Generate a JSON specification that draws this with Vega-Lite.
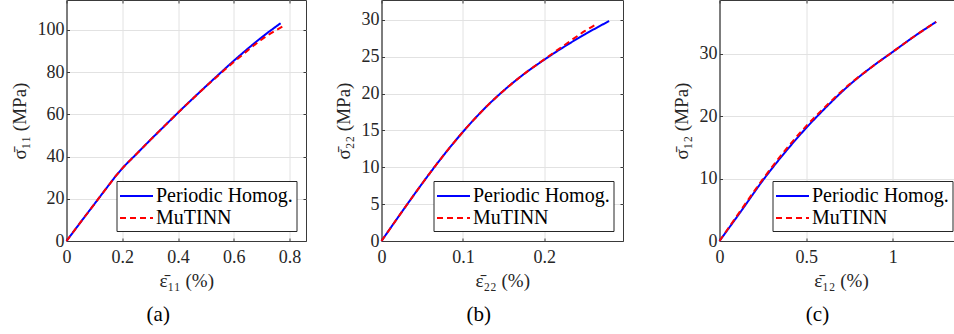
{
  "$schema": "https://vega.github.io/schema/vega-lite/v6.json",
  "padding": {"left": 9.5, "top": -1, "right": 0, "bottom": 0},
  "background": "white",
  "datasets": {
    "curves": [
      {"p": "a", "s": "Periodic Homog.", "x": 0, "y": 0},
      {"p": "a", "s": "Periodic Homog.", "x": 0.05, "y": 8.8},
      {"p": "a", "s": "Periodic Homog.", "x": 0.1, "y": 17.5},
      {"p": "a", "s": "Periodic Homog.", "x": 0.15, "y": 26.2},
      {"p": "a", "s": "Periodic Homog.", "x": 0.18, "y": 31.3},
      {"p": "a", "s": "Periodic Homog.", "x": 0.2, "y": 34.4},
      {"p": "a", "s": "Periodic Homog.", "x": 0.25, "y": 41.1},
      {"p": "a", "s": "Periodic Homog.", "x": 0.3, "y": 47.8},
      {"p": "a", "s": "Periodic Homog.", "x": 0.35, "y": 54.3},
      {"p": "a", "s": "Periodic Homog.", "x": 0.4, "y": 60.8},
      {"p": "a", "s": "Periodic Homog.", "x": 0.45, "y": 67.1},
      {"p": "a", "s": "Periodic Homog.", "x": 0.5, "y": 73.3},
      {"p": "a", "s": "Periodic Homog.", "x": 0.55, "y": 79.4},
      {"p": "a", "s": "Periodic Homog.", "x": 0.6, "y": 85.4},
      {"p": "a", "s": "Periodic Homog.", "x": 0.65, "y": 91.1},
      {"p": "a", "s": "Periodic Homog.", "x": 0.7, "y": 96.5},
      {"p": "a", "s": "Periodic Homog.", "x": 0.768, "y": 103.2},
      {"p": "a", "s": "MuTINN", "x": 0, "y": 0},
      {"p": "a", "s": "MuTINN", "x": 0.05, "y": 8.8},
      {"p": "a", "s": "MuTINN", "x": 0.1, "y": 17.5},
      {"p": "a", "s": "MuTINN", "x": 0.15, "y": 26.2},
      {"p": "a", "s": "MuTINN", "x": 0.18, "y": 31.3},
      {"p": "a", "s": "MuTINN", "x": 0.2, "y": 34.4},
      {"p": "a", "s": "MuTINN", "x": 0.25, "y": 41.1},
      {"p": "a", "s": "MuTINN", "x": 0.3, "y": 47.8},
      {"p": "a", "s": "MuTINN", "x": 0.35, "y": 54.3},
      {"p": "a", "s": "MuTINN", "x": 0.4, "y": 60.8},
      {"p": "a", "s": "MuTINN", "x": 0.45, "y": 67.1},
      {"p": "a", "s": "MuTINN", "x": 0.5, "y": 73.2},
      {"p": "a", "s": "MuTINN", "x": 0.55, "y": 79.1},
      {"p": "a", "s": "MuTINN", "x": 0.6, "y": 84.8},
      {"p": "a", "s": "MuTINN", "x": 0.65, "y": 90.3},
      {"p": "a", "s": "MuTINN", "x": 0.7, "y": 95.5},
      {"p": "a", "s": "MuTINN", "x": 0.774, "y": 101.6},
      {"p": "b", "s": "Periodic Homog.", "x": 0, "y": 0},
      {"p": "b", "s": "Periodic Homog.", "x": 0.025, "y": 3.95},
      {"p": "b", "s": "Periodic Homog.", "x": 0.05, "y": 7.8},
      {"p": "b", "s": "Periodic Homog.", "x": 0.075, "y": 11.45},
      {"p": "b", "s": "Periodic Homog.", "x": 0.1, "y": 14.8},
      {"p": "b", "s": "Periodic Homog.", "x": 0.125, "y": 17.8},
      {"p": "b", "s": "Periodic Homog.", "x": 0.15, "y": 20.4},
      {"p": "b", "s": "Periodic Homog.", "x": 0.175, "y": 22.65},
      {"p": "b", "s": "Periodic Homog.", "x": 0.2, "y": 24.6},
      {"p": "b", "s": "Periodic Homog.", "x": 0.225, "y": 26.4},
      {"p": "b", "s": "Periodic Homog.", "x": 0.25, "y": 28.05},
      {"p": "b", "s": "Periodic Homog.", "x": 0.2797, "y": 29.85},
      {"p": "b", "s": "MuTINN", "x": 0, "y": 0},
      {"p": "b", "s": "MuTINN", "x": 0.025, "y": 3.95},
      {"p": "b", "s": "MuTINN", "x": 0.05, "y": 7.8},
      {"p": "b", "s": "MuTINN", "x": 0.075, "y": 11.45},
      {"p": "b", "s": "MuTINN", "x": 0.1, "y": 14.8},
      {"p": "b", "s": "MuTINN", "x": 0.125, "y": 17.8},
      {"p": "b", "s": "MuTINN", "x": 0.15, "y": 20.4},
      {"p": "b", "s": "MuTINN", "x": 0.175, "y": 22.65},
      {"p": "b", "s": "MuTINN", "x": 0.2, "y": 24.65},
      {"p": "b", "s": "MuTINN", "x": 0.225, "y": 26.6},
      {"p": "b", "s": "MuTINN", "x": 0.25, "y": 28.5},
      {"p": "b", "s": "MuTINN", "x": 0.2645, "y": 29.45},
      {"p": "c", "s": "Periodic Homog.", "x": 0, "y": 0},
      {"p": "c", "s": "Periodic Homog.", "x": 0.125, "y": 4.8},
      {"p": "c", "s": "Periodic Homog.", "x": 0.25, "y": 9.7},
      {"p": "c", "s": "Periodic Homog.", "x": 0.375, "y": 14.1},
      {"p": "c", "s": "Periodic Homog.", "x": 0.5, "y": 18.1},
      {"p": "c", "s": "Periodic Homog.", "x": 0.625, "y": 21.7},
      {"p": "c", "s": "Periodic Homog.", "x": 0.75, "y": 25.0},
      {"p": "c", "s": "Periodic Homog.", "x": 0.875, "y": 27.8},
      {"p": "c", "s": "Periodic Homog.", "x": 1.0, "y": 30.3},
      {"p": "c", "s": "Periodic Homog.", "x": 1.125, "y": 32.8},
      {"p": "c", "s": "Periodic Homog.", "x": 1.25, "y": 35.1},
      {"p": "c", "s": "MuTINN", "x": 0, "y": 0},
      {"p": "c", "s": "MuTINN", "x": 0.125, "y": 5.0},
      {"p": "c", "s": "MuTINN", "x": 0.25, "y": 9.9},
      {"p": "c", "s": "MuTINN", "x": 0.375, "y": 14.4},
      {"p": "c", "s": "MuTINN", "x": 0.5, "y": 18.4},
      {"p": "c", "s": "MuTINN", "x": 0.625, "y": 21.9},
      {"p": "c", "s": "MuTINN", "x": 0.75, "y": 25.1},
      {"p": "c", "s": "MuTINN", "x": 0.875, "y": 27.8},
      {"p": "c", "s": "MuTINN", "x": 1.0, "y": 30.3},
      {"p": "c", "s": "MuTINN", "x": 1.125, "y": 32.8},
      {"p": "c", "s": "MuTINN", "x": 1.25, "y": 35.1}
    ]
  },
  "data": {"name": "curves"},
  "config": {
    "font": "Liberation Serif, serif",
    "view": {"stroke": "#3a3a3a", "strokeWidth": 1},
    "axis": {
      "labelFont": "Liberation Serif, serif",
      "labelFontSize": 18,
      "labelColor": "#262626",
      "titleFont": "Liberation Serif, serif",
      "titleFontSize": 19,
      "titleFontWeight": "normal",
      "titleColor": "#262626",
      "domainColor": "#3a3a3a",
      "tickColor": "#3a3a3a",
      "tickSize": -3,
      "gridColor": "#e2e2e2",
      "labelFlush": false,
      "labelOverlap": false,
      "labelBound": false
    },
    "axisY": {"labelPadding": 5.5, "titlePadding": 8},
    "axisX": {"labelPadding": 10, "titlePadding": 5},
    "legend": {
      "orient": "bottom-right",
      "offset": 10,
      "symbolSize": 484,
      "symbolStrokeWidth": 2,
      "symbolOffset": 5,
      "labelFont": "Liberation Serif, serif",
      "labelFontSize": 20,
      "labelColor": "#000000",
      "labelOffset": 7.5,
      "labelLimit": 400,
      "padding": 3,
      "rowPadding": 0,
      "strokeColor": "#262626",
      "fillColor": "#ffffff",
      "cornerRadius": 0
    },
    "title": {
      "orient": "bottom",
      "anchor": "middle",
      "frame": "bounds",
      "font": "Liberation Serif, serif",
      "fontSize": 21,
      "fontWeight": "normal",
      "color": "#000000",
      "offset": 14
    }
  },
  "resolve": {"scale": {"color": "independent", "strokeDash": "independent"}},
  "hconcat": [
    {
      "spacing": 26,
      "resolve": {"scale": {"color": "independent", "strokeDash": "independent"}},
      "hconcat": [
        {
          "width": 239.5,
          "height": 241,
          "title": {"text": "(a)"},
          "transform": [{"filter": "datum.p === 'a'"}],
          "layer": [
            {
              "transform": [{"filter": "datum.s === 'Periodic Homog.'"}],
              "mark": {"type": "line", "strokeWidth": 2, "interpolate": "monotone"},
              "encoding": {
                "x": {"field": "x", "type": "quantitative", "scale": {"domain": [0, 0.859], "nice": false, "zero": false}, "axis": {"values": [0, 0.2, 0.4, 0.6, 0.8], "format": "~f", "title": "ε̄₁₁ (%)"}},
                "y": {"field": "y", "type": "quantitative", "scale": {"domain": [0, 114.2], "nice": false, "zero": false}, "axis": {"values": [0, 20, 40, 60, 80, 100], "format": "~f", "title": "σ̄₁₁ (MPa)"}},
                "color": {"field": "s", "type": "nominal", "scale": {"domain": ["Periodic Homog.", "MuTINN"], "range": ["#0000ff", "#ff0000"]}, "legend": {"title": null, "symbolType": "M-1.5,0H1.5"}},
                "strokeDash": {"field": "s", "type": "nominal", "scale": {"domain": ["Periodic Homog.", "MuTINN"], "range": [[1, 0], [6, 4]]}, "legend": {"title": null, "symbolType": "M-1.5,0H1.5"}}
              }
            },
            {
              "transform": [{"filter": "datum.s === 'MuTINN'"}],
              "mark": {"type": "line", "strokeWidth": 2, "interpolate": "monotone"},
              "encoding": {
                "x": {"field": "x", "type": "quantitative", "scale": {"domain": [0, 0.859], "nice": false, "zero": false}, "axis": null},
                "y": {"field": "y", "type": "quantitative", "scale": {"domain": [0, 114.2], "nice": false, "zero": false}, "axis": null},
                "color": {"field": "s", "type": "nominal", "scale": {"domain": ["Periodic Homog.", "MuTINN"], "range": ["#0000ff", "#ff0000"]}, "legend": {"title": null, "symbolType": "M-1.5,0H1.5"}},
                "strokeDash": {"field": "s", "type": "nominal", "scale": {"domain": ["Periodic Homog.", "MuTINN"], "range": [[1, 0], [6, 4]]}, "legend": {"title": null, "symbolType": "M-1.5,0H1.5"}}
              }
            },
            {
              "mark": {"type": "point", "opacity": 0},
              "encoding": {
                "x": {"field": "x", "type": "quantitative", "scale": {"domain": [0, 0.859], "nice": false, "zero": false}, "axis": {"orient": "top", "values": [0, 0.2, 0.4, 0.6, 0.8], "labels": false, "domain": false, "grid": false, "title": null}},
                "y": {"field": "y", "type": "quantitative", "scale": {"domain": [0, 114.2], "nice": false, "zero": false}, "axis": {"orient": "right", "values": [0, 20, 40, 60, 80, 100], "labels": false, "domain": false, "grid": false, "title": null}}
              }
            }
          ],
          "resolve": {"axis": {"x": "independent", "y": "independent"}}
        },
        {
          "width": 241.5,
          "height": 241,
          "title": {"text": "(b)"},
          "transform": [{"filter": "datum.p === 'b'"}],
          "layer": [
            {
              "transform": [{"filter": "datum.s === 'Periodic Homog.'"}],
              "mark": {"type": "line", "strokeWidth": 2, "interpolate": "monotone"},
              "encoding": {
                "x": {"field": "x", "type": "quantitative", "scale": {"domain": [0, 0.2967], "nice": false, "zero": false}, "axis": {"values": [0, 0.1, 0.2], "format": "~f", "title": "ε̄₂₂ (%)"}},
                "y": {"field": "y", "type": "quantitative", "scale": {"domain": [0, 32.7], "nice": false, "zero": false}, "axis": {"values": [0, 5, 10, 15, 20, 25, 30], "format": "~f", "title": "σ̄₂₂ (MPa)"}},
                "color": {"field": "s", "type": "nominal", "scale": {"domain": ["Periodic Homog.", "MuTINN"], "range": ["#0000ff", "#ff0000"]}, "legend": {"title": null, "symbolType": "M-1.5,0H1.5"}},
                "strokeDash": {"field": "s", "type": "nominal", "scale": {"domain": ["Periodic Homog.", "MuTINN"], "range": [[1, 0], [6, 4]]}, "legend": {"title": null, "symbolType": "M-1.5,0H1.5"}}
              }
            },
            {
              "transform": [{"filter": "datum.s === 'MuTINN'"}],
              "mark": {"type": "line", "strokeWidth": 2, "interpolate": "monotone"},
              "encoding": {
                "x": {"field": "x", "type": "quantitative", "scale": {"domain": [0, 0.2967], "nice": false, "zero": false}, "axis": null},
                "y": {"field": "y", "type": "quantitative", "scale": {"domain": [0, 32.7], "nice": false, "zero": false}, "axis": null},
                "color": {"field": "s", "type": "nominal", "scale": {"domain": ["Periodic Homog.", "MuTINN"], "range": ["#0000ff", "#ff0000"]}, "legend": {"title": null, "symbolType": "M-1.5,0H1.5"}},
                "strokeDash": {"field": "s", "type": "nominal", "scale": {"domain": ["Periodic Homog.", "MuTINN"], "range": [[1, 0], [6, 4]]}, "legend": {"title": null, "symbolType": "M-1.5,0H1.5"}}
              }
            },
            {
              "mark": {"type": "point", "opacity": 0},
              "encoding": {
                "x": {"field": "x", "type": "quantitative", "scale": {"domain": [0, 0.2967], "nice": false, "zero": false}, "axis": {"orient": "top", "values": [0, 0.1, 0.2], "labels": false, "domain": false, "grid": false, "title": null}},
                "y": {"field": "y", "type": "quantitative", "scale": {"domain": [0, 32.7], "nice": false, "zero": false}, "axis": {"orient": "right", "values": [0, 5, 10, 15, 20, 25, 30], "labels": false, "domain": false, "grid": false, "title": null}}
              }
            }
          ],
          "resolve": {"axis": {"x": "independent", "y": "independent"}}
        }
      ]
    },
    {
      "width": 243,
      "height": 241,
      "title": {"text": "(c)"},
      "transform": [{"filter": "datum.p === 'c'"}],
      "layer": [
        {
          "transform": [{"filter": "datum.s === 'Periodic Homog.'"}],
          "mark": {"type": "line", "strokeWidth": 2, "interpolate": "monotone"},
          "encoding": {
            "x": {"field": "x", "type": "quantitative", "scale": {"domain": [0, 1.402], "nice": false, "zero": false}, "axis": {"values": [0, 0.5, 1], "format": "~f", "title": "ε̄₁₂ (%)"}},
            "y": {"field": "y", "type": "quantitative", "scale": {"domain": [0, 38.6], "nice": false, "zero": false}, "axis": {"values": [0, 10, 20, 30], "format": "~f", "title": "σ̄₁₂ (MPa)"}},
            "color": {"field": "s", "type": "nominal", "scale": {"domain": ["Periodic Homog.", "MuTINN"], "range": ["#0000ff", "#ff0000"]}, "legend": {"title": null, "symbolType": "M-1.5,0H1.5"}},
            "strokeDash": {"field": "s", "type": "nominal", "scale": {"domain": ["Periodic Homog.", "MuTINN"], "range": [[1, 0], [6, 4]]}, "legend": {"title": null, "symbolType": "M-1.5,0H1.5"}}
          }
        },
        {
          "transform": [{"filter": "datum.s === 'MuTINN'"}],
          "mark": {"type": "line", "strokeWidth": 2, "interpolate": "monotone"},
          "encoding": {
            "x": {"field": "x", "type": "quantitative", "scale": {"domain": [0, 1.402], "nice": false, "zero": false}, "axis": null},
            "y": {"field": "y", "type": "quantitative", "scale": {"domain": [0, 38.6], "nice": false, "zero": false}, "axis": null},
            "color": {"field": "s", "type": "nominal", "scale": {"domain": ["Periodic Homog.", "MuTINN"], "range": ["#0000ff", "#ff0000"]}, "legend": {"title": null, "symbolType": "M-1.5,0H1.5"}},
            "strokeDash": {"field": "s", "type": "nominal", "scale": {"domain": ["Periodic Homog.", "MuTINN"], "range": [[1, 0], [6, 4]]}, "legend": {"title": null, "symbolType": "M-1.5,0H1.5"}}
          }
        },
        {
          "mark": {"type": "point", "opacity": 0},
          "encoding": {
            "x": {"field": "x", "type": "quantitative", "scale": {"domain": [0, 1.402], "nice": false, "zero": false}, "axis": {"orient": "top", "values": [0, 0.5, 1], "labels": false, "domain": false, "grid": false, "title": null}},
            "y": {"field": "y", "type": "quantitative", "scale": {"domain": [0, 38.6], "nice": false, "zero": false}, "axis": {"orient": "right", "values": [0, 10, 20, 30], "labels": false, "domain": false, "grid": false, "title": null}}
          }
        }
      ],
      "resolve": {"axis": {"x": "independent", "y": "independent"}}
    }
  ],
  "spacing": 47
}
